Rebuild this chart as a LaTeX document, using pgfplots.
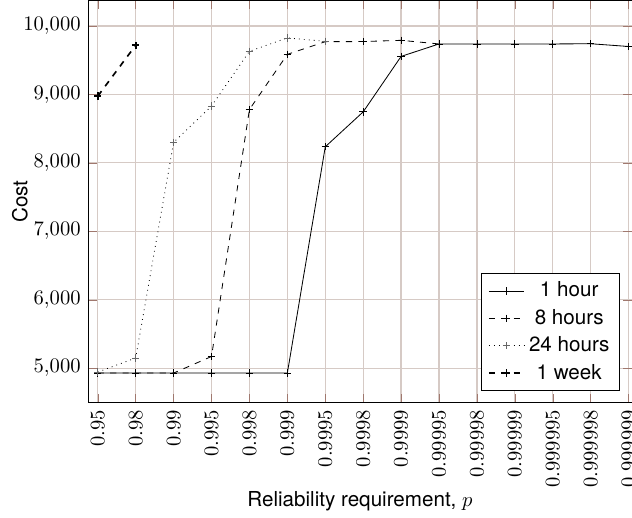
\documentclass[border=0pt]{standalone}
\usepackage{fontspec}
\setmainfont{TeX Gyre Heros}
\usepackage{pgfplots}
\pgfplotsset{compat=1.18}
\definecolor{gridc}{RGB}{214,202,197}
\definecolor{tickc}{RGB}{160,120,110}
\begin{document}
\begin{tikzpicture}[trim axis right]
\begin{axis}[
  scale only axis,
  width=264pt, height=195pt,
  xmin=-0.26, xmax=14.09,
  ymin=4500, ymax=10370,
  xtick={0,...,14},
  xticklabels={$0.95$,$0.98$,$0.99$,$0.995$,$0.998$,$0.999$,$0.9995$,$0.9998$,$0.9999$,$0.99995$,$0.99998$,$0.99999$,$0.999995$,$0.999998$,$0.999999$},
  xticklabel style={rotate=90, anchor=east},
  ytick={5000,6000,7000,8000,9000,10000},
  scaled y ticks=false,
  yticklabel={$\pgfmathprintnumber[1000 sep={\mathord{,}}]{\tick}$},
  grid=major,
  major grid style={gridc, line width=0.6pt},
  major tick style={tickc},
  xlabel={Reliability requirement, $p$},
  xlabel style={yshift=5pt},
  ylabel={Cost},
  ylabel style={yshift=-9pt},
  legend cell align=center,
  legend style={at={(0.978,0.029)}, anchor=south east, row sep=0.5pt},
]
\addplot[black, mark=+, mark size=1.8pt] coordinates {
 (0,4930) (1,4930) (2,4930) (3,4930) (4,4930) (5,4930) (6,8235) (7,8745) (8,9555) (9,9737) (10,9737) (11,9737) (12,9737) (13,9740) (14,9700)};
\addlegendentry{1 hour}
\addplot[black, dashed, mark=+, mark size=1.8pt, mark options={solid}] coordinates {
 (0,4930) (1,4930) (2,4930) (3,5172) (4,8780) (5,9585) (6,9770) (7,9772) (8,9790) (9,9737)};
\addlegendentry{8 hours}
\addplot[black, dotted, mark=+, mark size=1.8pt, mark options={solid, black!60}] coordinates {
 (0,4945) (1,5150) (2,8300) (3,8830) (4,9630) (5,9825) (6,9775)};
\addlegendentry{24 hours}
\addplot[black, dashed, thick, mark=+, mark size=1.8pt, mark options={solid}] coordinates {
 (0,8975) (1,9718)};
\addlegendentry{1 week}
\end{axis}
\path ([xshift=-2.5pt]current bounding box.west);
\end{tikzpicture}
\end{document}
